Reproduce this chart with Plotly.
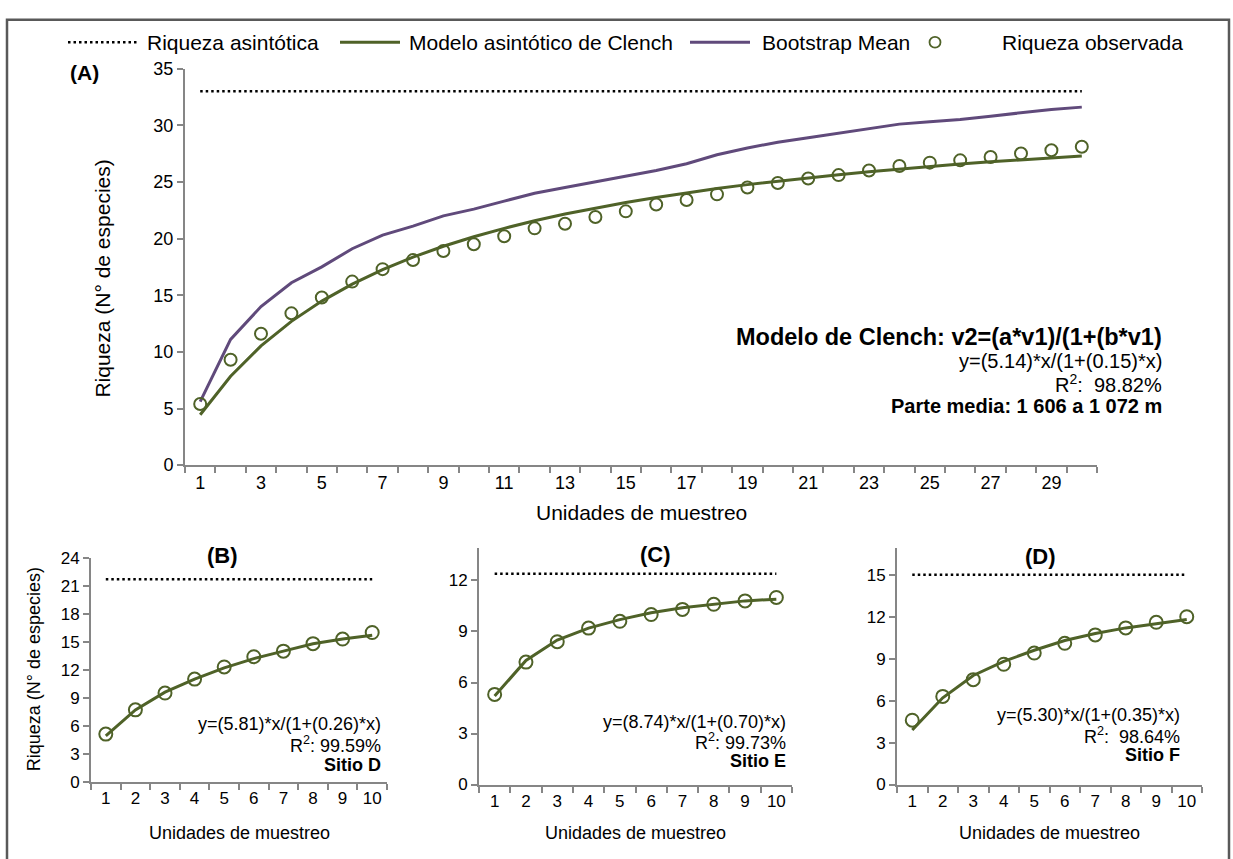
import plotly.graph_objects as go

W, H = 1233, 859

# Panel A - parte media (30 unidades de muestreo)
units_a = [1, 2, 3, 4, 5, 6, 7, 8, 9, 10, 11, 12, 13, 14, 15,
           16, 17, 18, 19, 20, 21, 22, 23, 24, 25, 26, 27, 28, 29, 30]
observed_a = [5.4, 9.3, 11.6, 13.4, 14.8, 16.2, 17.3, 18.1, 18.9, 19.5,
              20.2, 20.9, 21.3, 21.9, 22.4, 23.0, 23.4, 23.9, 24.5, 24.9,
              25.3, 25.6, 26.0, 26.4, 26.7, 26.9, 27.2, 27.5, 27.8, 28.1]
clench_a = [4.45, 7.85, 10.53, 12.69, 14.48, 15.98, 17.26, 18.36, 19.32, 20.16,
            20.90, 21.57, 22.16, 22.70, 23.19, 23.63, 24.04, 24.41, 24.76, 25.07,
            25.37, 25.64, 25.90, 26.14, 26.36, 26.57, 26.77, 26.95, 27.13, 27.29]
bootstrap_a = [5.6, 11.1, 14.0, 16.1, 17.5, 19.1, 20.3, 21.1, 22.0, 22.6,
               23.3, 24.0, 24.5, 25.0, 25.5, 26.0, 26.6, 27.4, 28.0, 28.5,
               28.9, 29.3, 29.7, 30.1, 30.3, 30.5, 30.8, 31.1, 31.4, 31.6]
asymptote_a = 33.0
ticks_a = [1, 3, 5, 7, 9, 11, 13, 15, 17, 19, 21, 23, 25, 27, 29]

# Panels B-D (10 unidades de muestreo)
units_s = [1, 2, 3, 4, 5, 6, 7, 8, 9, 10]
observed_b = [5.1, 7.7, 9.5, 11.0, 12.3, 13.4, 14.0, 14.8, 15.3, 16.0]
clench_b = [4.9, 7.7, 9.6, 11.0, 12.2, 13.2, 14.0, 14.8, 15.3, 15.7]
asymptote_b = 21.7
observed_c = [5.3, 7.2, 8.4, 9.2, 9.6, 10.0, 10.3, 10.6, 10.8, 11.0]
clench_c = [5.2, 7.3, 8.5, 9.2, 9.7, 10.1, 10.4, 10.6, 10.8, 10.9]
asymptote_c = 12.4
observed_d = [4.6, 6.3, 7.5, 8.6, 9.4, 10.1, 10.7, 11.2, 11.6, 12.0]
clench_d = [3.9, 6.2, 7.8, 8.8, 9.6, 10.3, 10.8, 11.2, 11.5, 11.8]
asymptote_d = 15.0

GREEN = '#4F6228'
PURPLE = '#604A7B'
AXIS = '#868686'
FONT = 'Liberation Sans, Arial, sans-serif'


def px(x):
    return x / W


def py(y):
    return 1 - y / H


fig = go.Figure()

panels = [
    ('', units_a, observed_a, clench_a, asymptote_a, 12),
    ('2', units_s, observed_b, clench_b, asymptote_b, 13),
    ('3', units_s, observed_c, clench_c, asymptote_c, 13),
    ('4', units_s, observed_d, clench_d, asymptote_d, 13),
]

for sfx, xs, obs, model, asym, msize in panels:
    xa, ya = 'x' + sfx, 'y' + sfx
    fig.add_trace(go.Scatter(
        x=[xs[0], xs[-1]], y=[asym, asym], xaxis=xa, yaxis=ya, mode='lines',
        line=dict(color='black', width=2.5, dash='2.5px,3px'), showlegend=False))
    fig.add_trace(go.Scatter(
        x=xs, y=model, xaxis=xa, yaxis=ya, mode='lines',
        line=dict(color=GREEN, width=3), showlegend=False))
    if sfx == '':
        fig.add_trace(go.Scatter(
            x=xs, y=bootstrap_a, xaxis=xa, yaxis=ya, mode='lines',
            line=dict(color=PURPLE, width=3), showlegend=False))
    fig.add_trace(go.Scatter(
        x=xs, y=obs, xaxis=xa, yaxis=ya, mode='markers',
        marker=dict(symbol='circle-open', size=msize, color=GREEN,
                    line=dict(color=GREEN, width=2)),
        showlegend=False))


def xaxis_style(domain, anchor, n, tickvals, size):
    return dict(
        domain=domain, anchor=anchor, range=[0.5, n + 0.5],
        tickmode='array', tickvals=tickvals, ticktext=[str(t) for t in tickvals],
        ticks='', showline=True, linecolor=AXIS, linewidth=2,
        showgrid=False, zeroline=False, fixedrange=True,
        tickfont=dict(size=size, color='black', family=FONT),
        minor=dict(ticks='outside', ticklen=6, tickwidth=2, tickcolor=AXIS,
                   tickmode='linear', tick0=0.5, dtick=1, showgrid=False),
    )


def yaxis_style(domain, anchor, rng, dtick, size):
    return dict(
        domain=domain, anchor=anchor, range=rng, dtick=dtick, tick0=0,
        ticks='outside', ticklen=6, tickwidth=2, tickcolor=AXIS,
        showline=True, linecolor=AXIS, linewidth=2,
        showgrid=False, zeroline=False, fixedrange=True,
        tickfont=dict(size=size, color='black', family=FONT),
    )


fig.update_layout(
    width=W, height=H,
    margin=dict(l=0, r=0, t=0, b=0),
    paper_bgcolor='white', plot_bgcolor='white',
    font=dict(family=FONT, color='black'),
    showlegend=False,
    xaxis=xaxis_style([px(185), px(1097)], 'y', 30, ticks_a, 18),
    yaxis=yaxis_style([py(466), py(60)], 'x', [0, 35], 5, 18),
    xaxis2=xaxis_style([px(91), px(387)], 'y2', 10, units_s, 17),
    yaxis2=yaxis_style([py(790), py(561)], 'x2', [0, 24], 3, 17),
    xaxis3=xaxis_style([px(479), px(792)], 'y3', 10, units_s, 17),
    yaxis3=yaxis_style([py(793), py(551)], 'x3', [0, 13.9], 3, 17),
    xaxis4=xaxis_style([px(897), px(1202)], 'y4', 10, units_s, 17),
    yaxis4=yaxis_style([py(793), py(551)], 'x4', [0, 16.9], 3, 17),
)

shapes = [
    # outer frame
    dict(type='rect', xref='paper', yref='paper', x0=px(7), x1=px(1229),
         y0=py(880), y1=py(10), line=dict(color='#595959', width=2.5),
         fillcolor='rgba(0,0,0,0)', layer='below'),
    # legend samples
    dict(type='line', xref='paper', yref='paper', x0=px(68), x1=px(138),
         y0=py(33), y1=py(33), line=dict(color='black', width=2.5, dash='2.5px,3px')),
    dict(type='line', xref='paper', yref='paper', x0=px(340), x1=px(400),
         y0=py(33), y1=py(33), line=dict(color=GREEN, width=3)),
    dict(type='line', xref='paper', yref='paper', x0=px(690), x1=px(750),
         y0=py(33), y1=py(33), line=dict(color=PURPLE, width=3)),
    dict(type='circle', xref='paper', yref='paper', x0=px(929.5), x1=px(940.5),
         y0=py(38.5), y1=py(27.5), line=dict(color=GREEN, width=1.8)),
]

annotations = []


def text(x, y, s, size, xanchor='center', bold=False, angle=0):
    if bold:
        s = '<b>' + s + '</b>'
    annotations.append(dict(
        x=px(x), y=py(y), xref='paper', yref='paper', text=s, showarrow=False,
        xanchor=xanchor, yanchor='middle', textangle=angle,
        font=dict(size=size, color='black', family=FONT)))


# legend texts
text(145, 33, 'Riqueza asintótica', 21, 'left')
text(407, 33, 'Modelo asintótico de Clench', 21, 'left')
text(760, 33, 'Bootstrap Mean', 21, 'left')
text(1000, 33, 'Riqueza observada', 21, 'left')

# panel A
text(84, 64, '(A)', 21, bold=True)
text(103, 275, 'Riqueza (N° de especies)', 21, angle=-90)
text(641, 514, 'Unidades de muestreo', 21)
text(1164, 335, 'Modelo de Clench: v2=(a*v1)/(1+(b*v1)', 23.5, 'right', bold=True)
text(1164, 359, 'y=(5.14)*x/(1+(0.15)*x)', 20, 'right')
text(1164, 382, 'R<sup>2</sup>:  98.82%', 20, 'right')
text(1164, 405, 'Parte media: 1 606 a 1 072 m', 20, 'right', bold=True)

# panel B
text(222, 559, '(B)', 22, bold=True)
text(34, 675, 'Riqueza (N° de especies)', 18, angle=-90)
text(239, 843, 'Unidades de muestreo', 18)
text(383, 731, 'y=(5.81)*x/(1+(0.26)*x)', 18, 'right')
text(383, 752, 'R<sup>2</sup>: 99.59%', 18, 'right')
text(383, 773, 'Sitio D', 18, 'right', bold=True)

# panel C
text(655, 557, '(C)', 22, bold=True)
text(635, 843, 'Unidades de muestreo', 18)
text(788, 729, 'y=(8.74)*x/(1+(0.70)*x)', 18, 'right')
text(788, 749, 'R<sup>2</sup>: 99.73%', 18, 'right')
text(788, 769, 'Sitio E', 18, 'right', bold=True)

# panel D
text(1040, 560, '(D)', 22, bold=True)
text(1049, 843, 'Unidades de muestreo', 18)
text(1182, 722, 'y=(5.30)*x/(1+(0.35)*x)', 18, 'right')
text(1182, 743, 'R<sup>2</sup>:  98.64%', 18, 'right')
text(1182, 763, 'Sitio F', 18, 'right', bold=True)

fig.update_layout(shapes=shapes, annotations=annotations)

fig.write_html("out.html", config={'displayModeBar': False},
               post_script="document.body.style.margin='0';document.body.style.overflow='hidden';")
